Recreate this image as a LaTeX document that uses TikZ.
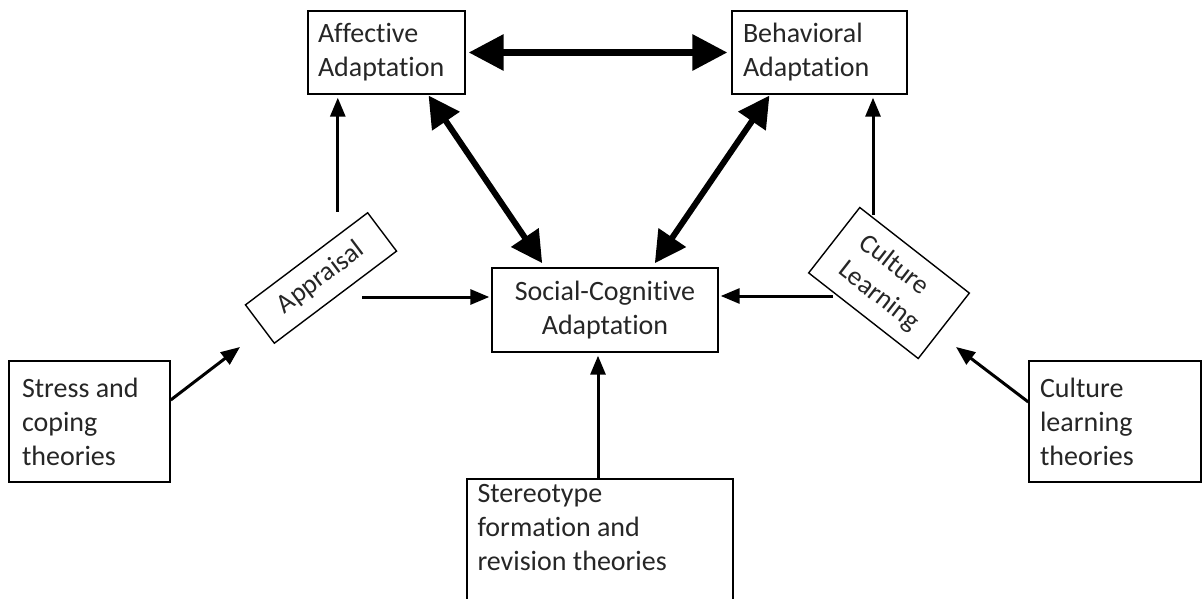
\documentclass[tikz,border=0pt]{standalone}
\usepackage{fontspec}
\setmainfont{Carlito}[Ligatures={NoCommon}]
\usetikzlibrary{arrows.meta,calc}
\begin{document}
\begin{tikzpicture}[x=1pt,y=-1pt,
  box/.style={draw, line width=1.4pt, inner ysep=0pt, inner xsep=10pt,
    font=\fontsize{28}{34}\selectfont, text=black!85},
  tilted/.style={box, font=\fontsize{27}{34}\selectfont},
  lbl/.style={inner sep=0pt, font=\fontsize{28}{34}\selectfont, text=black!85, align=flush left},
  thinarr/.style={line width=3pt, -{Triangle[length=19pt,width=15pt]}},
  midarr/.style={line width=6pt, {Triangle[length=31pt,width=32pt]}-{Triangle[length=31pt,width=32pt]}},
  bigarr/.style={line width=6.5pt, {Triangle[length=35pt,width=35pt]}-{Triangle[length=35pt,width=35pt]}}
]
\useasboundingbox (0,0) rectangle (1202,599);

% adaptation boxes
\node[box, minimum width=157, minimum height=83, text width=137, align=flush left]
  (aff) at (386.5,52.5) {Affective\\Adaptation};
\node[box, minimum width=175, minimum height=83, inner xsep=11pt, text width=153, align=flush left]
  (beh) at (819.5,52.5) {Behavioral\\Adaptation};
\node[box, minimum width=226, minimum height=84, align=flush center]
  (soc) at (605,310) {Social-Cognitive\\Adaptation};

% tilted process boxes
\node[tilted, rotate=37, minimum width=153, minimum height=48, align=flush center]
  (appr) at (321,278) {Appraisal};
\node[tilted, rotate=-38, minimum width=139, minimum height=83, inner xsep=0pt, align=flush left]
  (cul) at (889,283) {Culture\\Learning};

% theory boxes
\node[box, minimum width=161, minimum height=121, inner xsep=13pt, text width=135, align=flush left]
  (stress) at (89.5,421.5) {Stress and\\coping\\theories};
\node[box, minimum width=172, minimum height=121, inner xsep=11pt, text width=150, align=flush left]
  (clt) at (1115,421.5) {Culture\\learning\\theories};
\node[box, minimum width=266, minimum height=126] (ster) at (600,542) {};
\node[lbl, anchor=north west] (stertext) at ([shift={(11,6)}]ster.north west)
  {Stereotype\\formation and\\revision theories};

% free ends of the thin arrows
\coordinate (apprTop)   at ([xshift=-30pt]appr.north east);
\coordinate (apprRight) at ([shift={(41,19)}]appr.center);
\coordinate (apprIn)    at ([shift={(-81,69)}]appr.center);
\coordinate (culTop)    at ([shift={(-16,-68)}]cul.center);
\coordinate (culLeft)   at ([shift={(-56,13)}]cul.center);
\coordinate (culIn)     at ([shift={(67,64)}]cul.center);
\coordinate (sterTop)   at ([xshift=-2pt]ster.north);

% links between the adaptations
\draw[bigarr, shorten <=3pt, shorten >=4pt] (aff) -- (beh);
\draw[midarr, shorten <=1pt, shorten >=5pt] ([xshift=41.5pt]aff.south) -- ([xshift=-60pt]soc.north);
\draw[midarr, shorten <=1pt, shorten >=5pt] ([xshift=-49.5pt]beh.south) -- ([xshift=47pt]soc.north);

% process arrows
\draw[thinarr, shorten >=3pt] (apprTop) -- (apprTop |- aff.south);
\draw[thinarr, shorten >=2pt] (apprRight) -- (apprRight -| soc.west);
\draw[thinarr, shorten >=3pt] (culTop) -- (culTop |- beh.south);
\draw[thinarr, shorten >=2pt] (culLeft) -- (culLeft -| soc.east);

% theory arrows
\draw[thinarr] ([yshift=21.5pt]stress.east) -- (apprIn);
\draw[thinarr] ([yshift=19.5pt]clt.west) -- (culIn);
\draw[thinarr, shorten >=3pt] (sterTop) -- (sterTop |- soc.south);
\end{tikzpicture}
\end{document}
